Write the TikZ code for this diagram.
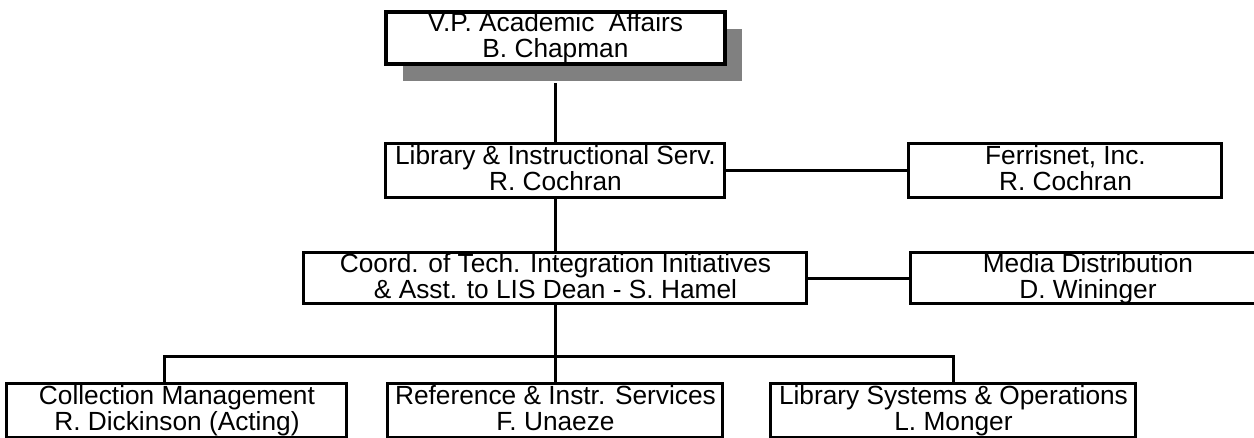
\documentclass[tikz,border=0pt]{standalone}
\usepackage{fontspec}
\setmainfont{Liberation Sans}
\usetikzlibrary{positioning,shadows}
\newcommand{\boxline}[1]{\rule[-3.84pt]{0pt}{17.84pt}\smash{#1}}

\begin{document}
\begin{tikzpicture}[node distance=1cm,
  unit/.style={rectangle, draw, line width=2.25pt, fill=white, align=center, inner sep=0pt,
    font=\fontsize{19.7}{19.5}\selectfont},
  link/.style={line width=2.25pt}]
\useasboundingbox (0,0) rectangle (940.5pt,-327.75pt);
\clip (0,0) rectangle (940.5pt,-327.75pt);

\node[unit, line width=3pt, minimum width=254.25pt, minimum height=39.4pt,
  drop shadow={shadow xshift=12.75pt, shadow yshift=-12.75pt, opacity=1, fill=black!50}]
  (vp) at (416.6pt,-28.5pt) {\boxline{V.P. Academic~ Affairs}\\\boxline{B. Chapman}};
\node[unit, minimum width=254.25pt, minimum height=40.5pt, below=57pt of vp] (lis) {\boxline{Library \& Instructional Serv.}\\\boxline{R. Cochran}};
\node[unit, minimum width=234.75pt, minimum height=40.5pt, right=135.75pt of lis] (ferris) {\boxline{Ferrisnet, Inc.}\\\boxline{R. Cochran}};
\node[unit, minimum width=377.25pt, minimum height=38.25pt, below=39pt of lis] (coord) {\boxline{Coord. of Tech. Integration Initiatives}\\\boxline{\& Asst. to LIS Dean - S. Hamel}};
\node[unit, minimum width=265.5pt, minimum height=38.25pt, right=75.75pt of coord] (media) {\boxline{Media Distribution}\\\boxline{D. Wininger}};
\node[unit, minimum width=251.25pt, minimum height=40.5pt, below=57.75pt of coord] (ref) {\boxline{Reference \& Instr. Services}\\\boxline{F. Unaeze}};
\node[unit, minimum width=255pt, minimum height=40.5pt, left=28.5pt of ref] (coll) {\boxline{Collection Management}\\\boxline{R. Dickinson (Acting)}};
\node[unit, minimum width=273.75pt, minimum height=40.5pt, right=33.75pt of ref] (sys) {\boxline{Library Systems \& Operations}\\\boxline{L. Monger}};

\draw[link] ([yshift=-12.75pt]vp.south) -- (lis.north);
\draw[link] (lis) -- (ferris);
\draw[link] (lis.south) -- (coord.north);
\draw[link] (coord) -- (media);
\draw[link] (coord.south) -- (ref.north);
\draw[link] ([xshift=119pt]coll.north west) -- ++(0,19.5pt) -| (sys.north);
\end{tikzpicture}
\end{document}
